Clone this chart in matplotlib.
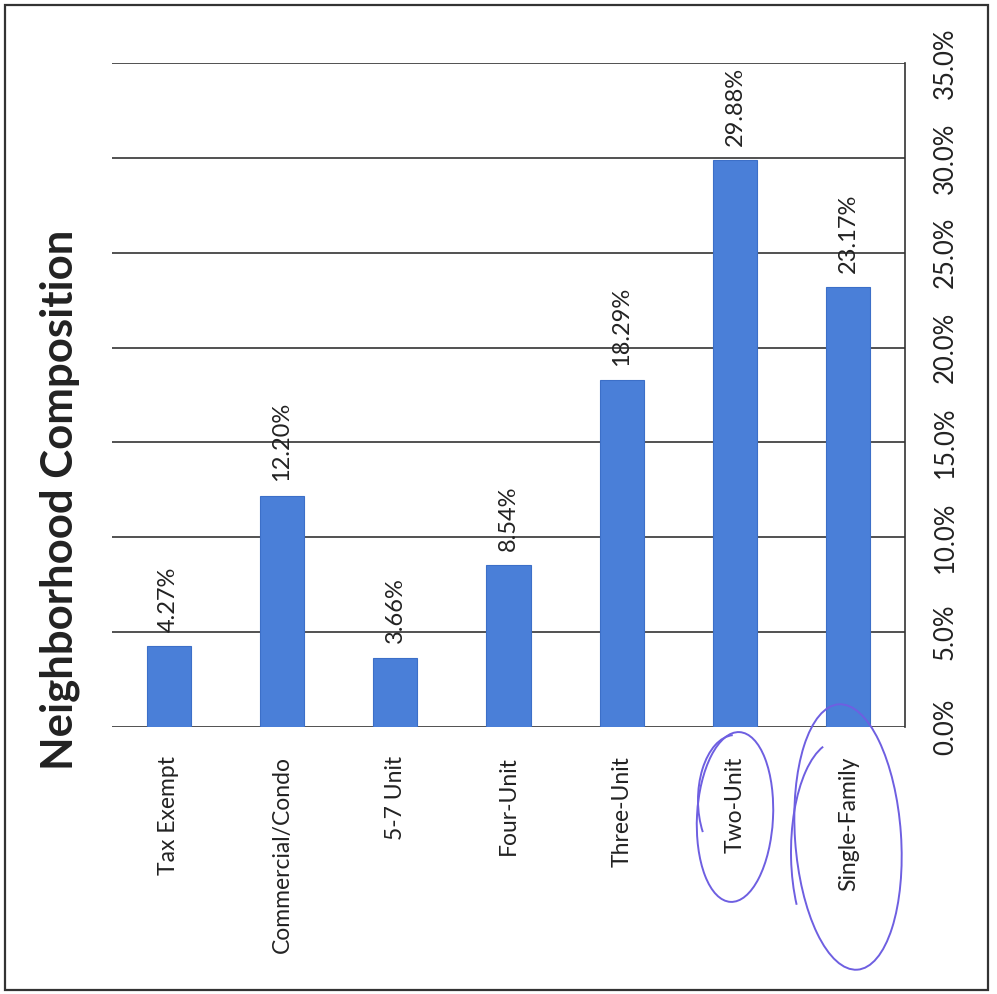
import matplotlib
matplotlib.use("Agg")
import matplotlib.pyplot as plt
from matplotlib.patches import Ellipse, Arc, Rectangle

categories = ["Tax Exempt", "Commercial/Condo", "5-7 Unit", "Four-Unit",
              "Three-Unit", "Two-Unit", "Single-Family"]
shares = [4.27, 12.20, 3.66, 8.54, 18.29, 29.88, 23.17]
y_ticks = [0, 5, 10, 15, 20, 25, 30, 35]
y_tick_labels = ["0.0%", "5.0%", "10.0%", "15.0%", "20.0%", "25.0%", "30.0%", "35.0%"]
title = "Neighborhood Composition"

plt.rcParams["font.family"] = ["Lato", "DejaVu Sans"]

W, H = 997, 994
fig = plt.figure(figsize=(W / 100, H / 100), dpi=100)
fig.patch.set_facecolor("white")

def fx(px):
    return px / W

def fy(py):
    return 1 - py / H

ax = fig.add_axes([fx(112), fy(727), fx(905) - fx(112), fy(63) - fy(727)])
x = list(range(len(categories)))
ax.bar(x, shares, width=0.39, color="#4a7fd8", edgecolor="#3c6fc8", linewidth=0.8, zorder=3)

ax.set_xlim(-0.5, len(categories) - 0.5)
ax.set_ylim(0, 35)
ax.set_yticks(y_ticks)
ax.set_yticklabels(y_tick_labels, rotation=90, va="center", fontsize=18.5, color="#222222")
ax.yaxis.tick_right()
ax.tick_params(axis="y", length=0, pad=20)
ax.set_xticks(x)
ax.set_xticklabels(categories, rotation=90, ha="center", va="top", fontsize=16.5, color="#222222")
ax.tick_params(axis="x", length=0, pad=21)
ax.grid(axis="y", color="#333333", linewidth=1.2, zorder=1)
for side in ["top", "left", "bottom"]:
    ax.spines[side].set_visible(False)
ax.spines["right"].set_color("#333333")
ax.spines["right"].set_linewidth(1.2)

for xi, v in zip(x, shares):
    ax.text(xi, v + 0.75, f"{v:.2f}%", rotation=90, ha="center", va="bottom",
            fontsize=17, color="#222222", zorder=4)

fig.text(fx(60), fy(500), title, rotation=90, ha="center", va="center",
         fontsize=31.5, fontweight="bold", color="#222222")

# page border
fig.add_artist(Rectangle((fx(5), fy(990)), fx(988) - fx(5), fy(5) - fy(990),
                         transform=fig.transFigure, fill=False,
                         edgecolor="#333333", linewidth=1.6))

# pen markings around the two largest categories
pen = "#6e5fe1"

def ellipse(cx, cy, w, h, angle=0):
    fig.add_artist(Ellipse((fx(cx), fy(cy)), fx(w), h / H, angle=angle,
                           transform=fig.transFigure, fill=False,
                           edgecolor=pen, linewidth=1.4))

def arc(cx, cy, w, h, t1, t2):
    fig.add_artist(Arc((fx(cx), fy(cy)), fx(w), h / H, theta1=t1, theta2=t2,
                       transform=fig.transFigure, edgecolor=pen, linewidth=1.4))

ellipse(735, 817, 76, 170, angle=-3)
arc(735, 800, 74, 130, 92, 225)
ellipse(848, 837, 106, 266, angle=4)
arc(838, 852, 94, 222, 98, 232)

fig.savefig("out.png", dpi=100, facecolor="white")
